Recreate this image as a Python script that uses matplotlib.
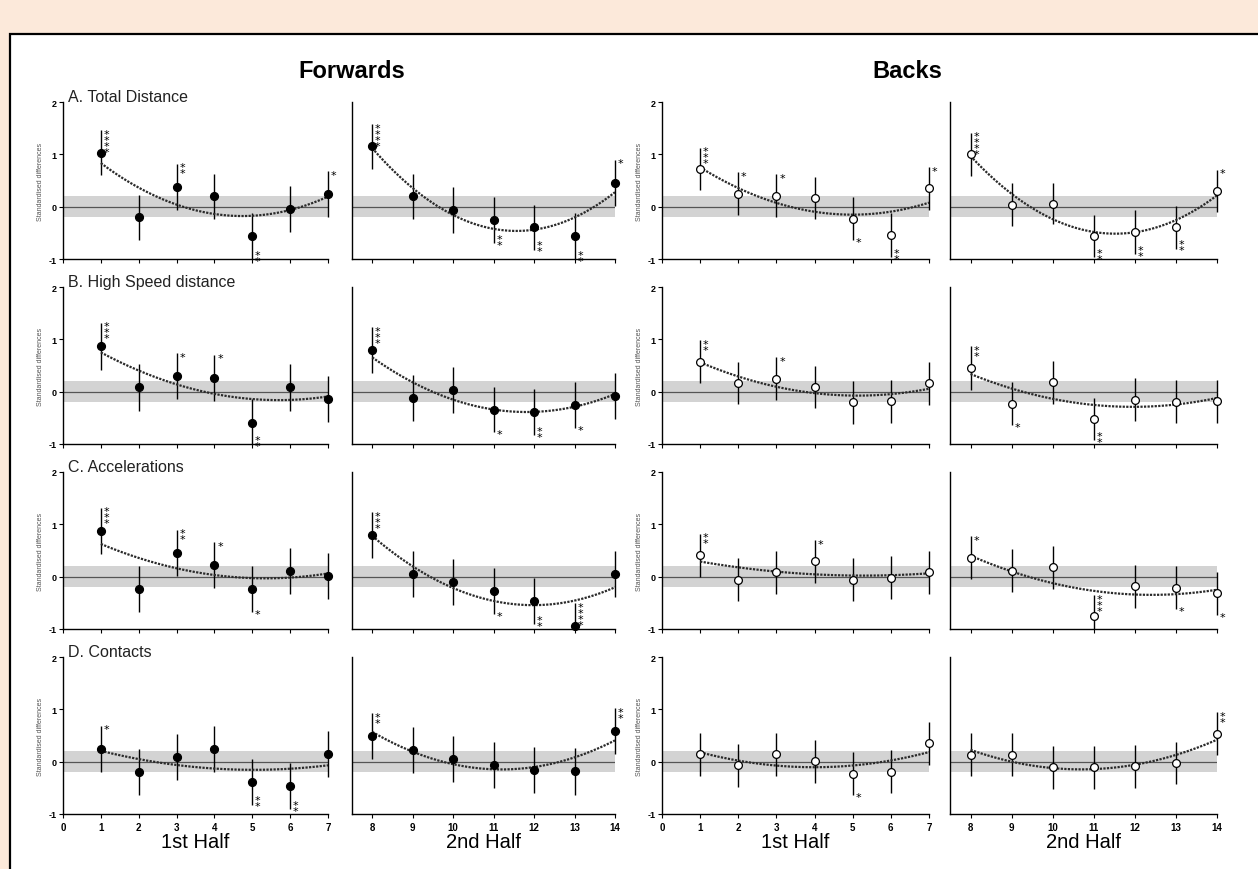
import numpy as np
import matplotlib
matplotlib.use('Agg')
import matplotlib.pyplot as plt
from matplotlib.patches import Rectangle

plt.rcParams['font.family'] = ['Liberation Sans', 'DejaVu Sans']
plt.rcParams['axes.unicode_minus'] = False

intervals = list(range(1, 15))
measures = ['A. Total Distance', 'B. High Speed distance', 'C. Accelerations', 'D. Contacts']
groups = ['Forwards', 'Backs']
halves = ['1st Half', '2nd Half']

# standardised differences, half width of CI, stars (+ = at top of bar, - = at bottom)
fwd_total = [1.03, -0.20, 0.38, 0.20, -0.56, -0.04, 0.24, 1.15, 0.20, -0.07, -0.26, -0.39, -0.57, 0.46]
fwd_total_ci = [0.43, 0.43, 0.44, 0.43, 0.44, 0.44, 0.44, 0.43, 0.43, 0.44, 0.44, 0.43, 0.44, 0.44]
fwd_total_sig = [4, 0, 2, 0, -2, 0, 1, 4, 0, 0, -2, -2, -2, 1]
bck_total = [0.72, 0.25, 0.21, 0.16, -0.23, -0.55, 0.35, 1.00, 0.04, 0.06, -0.56, -0.49, -0.39, 0.30]
bck_total_ci = [0.41, 0.41, 0.41, 0.40, 0.41, 0.42, 0.41, 0.41, 0.41, 0.40, 0.41, 0.42, 0.41, 0.41]
bck_total_sig = [3, 1, 1, 0, -1, -2, 1, 4, 0, 0, -2, -2, -2, 1]

fwd_hsd = [0.87, 0.08, 0.30, 0.27, -0.60, 0.08, -0.14, 0.79, -0.13, 0.03, -0.35, -0.39, -0.25, -0.08]
fwd_hsd_ci = [0.45, 0.44, 0.44, 0.44, 0.46, 0.44, 0.44, 0.44, 0.44, 0.44, 0.43, 0.44, 0.44, 0.44]
fwd_hsd_sig = [3, 0, 1, 1, -2, 0, 0, 3, 0, 0, -1, -2, -1, 0]
bck_hsd = [0.57, 0.16, 0.25, 0.09, -0.20, -0.18, 0.16, 0.45, -0.23, 0.18, -0.53, -0.15, -0.19, -0.18]
bck_hsd_ci = [0.41, 0.40, 0.41, 0.41, 0.41, 0.41, 0.41, 0.42, 0.41, 0.41, 0.40, 0.41, 0.41, 0.41]
bck_hsd_sig = [2, 0, 1, 0, 0, 0, 0, 2, -1, 0, -2, 0, 0, 0]

fwd_acc = [0.88, -0.24, 0.46, 0.22, -0.24, 0.10, 0.01, 0.79, 0.05, -0.11, -0.27, -0.47, -0.95, 0.05]
fwd_acc_ci = [0.44, 0.44, 0.44, 0.44, 0.44, 0.44, 0.44, 0.44, 0.44, 0.44, 0.44, 0.44, 0.44, 0.44]
fwd_acc_sig = [3, 0, 2, 1, -1, 0, 0, 3, 0, 0, -1, -2, 4, 0]
bck_acc = [0.41, -0.06, 0.08, 0.29, -0.06, -0.02, 0.08, 0.36, 0.11, 0.18, -0.76, -0.18, -0.21, -0.32]
bck_acc_ci = [0.41, 0.41, 0.41, 0.41, 0.41, 0.41, 0.41, 0.41, 0.41, 0.41, 0.41, 0.41, 0.41, 0.41]
bck_acc_sig = [2, 0, 0, 1, 0, 0, 0, 1, 0, 0, 3, 0, -1, -1]

fwd_con = [0.25, -0.20, 0.09, 0.25, -0.38, -0.46, 0.15, 0.49, 0.23, 0.05, -0.06, -0.16, -0.18, 0.58]
fwd_con_ci = [0.44, 0.44, 0.44, 0.44, 0.44, 0.44, 0.44, 0.44, 0.44, 0.44, 0.44, 0.44, 0.45, 0.44]
fwd_con_sig = [1, 0, 0, 0, -2, -2, 0, 2, 0, 0, 0, 0, 0, 2]
bck_con = [0.14, -0.07, 0.14, 0.01, -0.23, -0.19, 0.35, 0.13, 0.13, -0.11, -0.11, -0.09, -0.03, 0.53]
bck_con_ci = [0.41, 0.41, 0.41, 0.41, 0.41, 0.41, 0.41, 0.41, 0.41, 0.41, 0.41, 0.41, 0.40, 0.41]
bck_con_sig = [0, 0, 0, 0, -1, 0, 0, 0, 0, 0, 0, 0, 0, 2]

rows = [
    [(fwd_total, fwd_total_ci, fwd_total_sig), (bck_total, bck_total_ci, bck_total_sig)],
    [(fwd_hsd, fwd_hsd_ci, fwd_hsd_sig), (bck_hsd, bck_hsd_ci, bck_hsd_sig)],
    [(fwd_acc, fwd_acc_ci, fwd_acc_sig), (bck_acc, bck_acc_ci, bck_acc_sig)],
    [(fwd_con, fwd_con_ci, fwd_con_sig), (bck_con, bck_con_ci, bck_con_sig)],
]

W, H = 1258, 870
fig = plt.figure(figsize=(W / 100, H / 100), dpi=100)
fig.patch.set_facecolor('#fce9da')
fig.add_artist(Rectangle((10 / W, -0.05), 1.2, (H - 35) / H + 0.05, transform=fig.transFigure,
                         facecolor='white', edgecolor='black', lw=1.6, zorder=-5))

col_px = [(63, 328), (352, 615), (662, 929), (950, 1217)]
row_top = [103, 288, 473, 658]
row_h = 157

for r in range(4):
    for g in range(2):
        vals, ci, sig = rows[r][g]
        for h in range(2):
            c = 2 * g + h
            l, rr = col_px[c]
            ax = fig.add_axes([l / W, 1 - (row_top[r] + row_h) / H, (rr - l) / W, row_h / H])
            ax.set_facecolor('none')
            sl = slice(7 * h, 7 * h + 7)
            x = np.array(intervals[sl])
            y = np.array(vals[sl])
            e = np.array(ci[sl])
            s = sig[sl]

            ax.axhspan(-0.2, 0.2, color='#d3d3d3', lw=0, zorder=0)
            ax.axhline(0, color='#555555', lw=0.9, zorder=1)
            # bars stop at the bottom of the axis
            ax.vlines(x, np.maximum(y - e, -1), y + e, color='black', lw=1.0, zorder=2, clip_on=False)
            coef = np.polyfit(x, y, 2)
            xx = np.linspace(x[0], x[-1], 200)
            ax.plot(xx, np.polyval(coef, xx), color='#2a2a2a', lw=1.6, ls=(0, (1, 0.6)), zorder=3)
            if g == 0:
                ax.plot(x, y, 'o', ms=5.6, mfc='black', mec='black', zorder=4, clip_on=False)
            else:
                ax.plot(x, y, 'o', ms=5.6, mfc='white', mec='black', mew=0.9, zorder=4, clip_on=False)

            for xi, yi, ei, si in zip(x, y, e, s):
                if si == 0:
                    continue
                txt = '\n'.join(['*'] * abs(si))
                if si > 0:
                    ax.annotate(txt, (xi, yi + ei), xytext=(2, 1), textcoords='offset points',
                                ha='left', va='top', fontsize=8, linespacing=0.5,
                                family='DejaVu Sans', annotation_clip=False)
                else:
                    ax.annotate(txt, (xi, max(yi - ei, -1.0)), xytext=(2, -3.5), textcoords='offset points',
                                ha='left', va='baseline', fontsize=8, linespacing=0.5,
                                family='DejaVu Sans', annotation_clip=False)

            if h == 0:
                ax.set_xlim(0, 7)
                ax.set_xticks(range(0, 8))
            else:
                ax.set_xlim(7.5, 14)
                ax.set_xticks(range(8, 15))
            ax.set_ylim(-1, 2)
            ax.set_yticks([-1, 0, 1, 2])
            for side in ['top', 'right']:
                ax.spines[side].set_visible(False)
            for side in ['left', 'bottom']:
                ax.spines[side].set_linewidth(1.0)
            ax.tick_params(direction='out', length=3, width=0.8, labelsize=6.5, pad=1.5)
            ax.tick_params(axis='x', labelsize=7, pad=2.5)
            for lab in ax.get_xticklabels() + ax.get_yticklabels():
                lab.set_fontweight('bold')
            if h == 1:
                ax.tick_params(axis='y', left=False, labelleft=False)
            else:
                ax.set_ylabel('Standardised differences', fontsize=5, color='#555555')
                ax.yaxis.set_label_coords(-19 / (rr - l), 0.5)
            if r < 3:
                ax.tick_params(axis='x', labelbottom=False)

    fig.text(68 / W, 1 - (row_top[r] - 5) / H, measures[r], fontsize=11.5, ha='left', va='center', color='#222222')

fig.text(352 / W, 1 - 71 / H, groups[0], fontsize=17, fontweight='bold', ha='center', va='center')
fig.text(907 / W, 1 - 71 / H, groups[1], fontsize=17, fontweight='bold', ha='center', va='center')
for c in range(4):
    l, rr = col_px[c]
    fig.text((l + rr) / 2 / W, 1 - 843 / H, halves[c % 2], fontsize=14.5, ha='center', va='center')

fig.savefig('out.png', dpi=100, facecolor=fig.get_facecolor())
